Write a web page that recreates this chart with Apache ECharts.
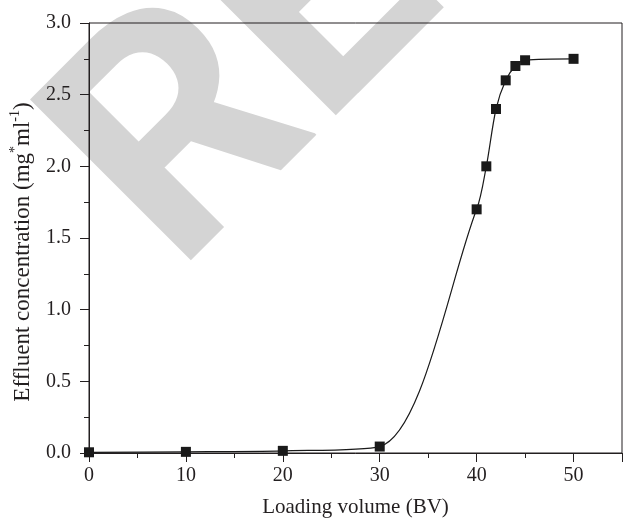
<!DOCTYPE html>
<html>
<head>
<meta charset="utf-8">
<script src="https://cdn.jsdelivr.net/npm/echarts@6/dist/echarts.min.js"></script>
<style>html,body{margin:0;padding:0;background:#fff;}#c{width:623px;height:523px;}</style>
</head>
<body>
<div id="c"></div>
<script>
var loadingVolume = [0, 10, 20, 30, 40, 41, 42, 43, 44, 45, 50];
var concentration = [0.005, 0.008, 0.015, 0.045, 1.70, 2.00, 2.40, 2.60, 2.70, 2.74, 2.75];
var xTicks = [0, 10, 20, 30, 40, 50];
var yTicks = ['0.0', '0.5', '1.0', '1.5', '2.0', '2.5', '3.0'];

var ink = '#231f20';
var serif = '"Liberation Serif", "DejaVu Serif", serif';
var chart = echarts.init(document.getElementById('c'), null, {renderer: 'canvas'});
var points = loadingVolume.map(function (x, i) { return [x, concentration[i]]; });

chart.setOption({
  animation: false,
  backgroundColor: '#ffffff',
  graphic: [{
    type: 'text',
    z: -100,
    silent: true,
    x: 120, y: 218,
    rotation: Math.PI / 4,
    style: {
      text: 'RETRACTED',
      fill: '#d4d4d4',
      font: 'bold 320px Roboto, "Open Sans", sans-serif',
      textAlign: 'left',
      textVerticalAlign: 'middle'
    }
  }],
  grid: {left: 87, right: 1, top: 23, bottom: 70, show: true, borderColor: ink, borderWidth: 1, backgroundColor: 'transparent'},
  xAxis: {
    type: 'value', min: 0, max: 55, interval: 10,
    name: 'Loading volume (BV)', nameLocation: 'middle', nameGap: 44,
    nameTextStyle: {fontFamily: serif, fontSize: 21, color: ink},
    axisLine: {show: true, onZero: false, lineStyle: {color: ink, width: 1}},
    axisTick: {show: true, inside: false, length: 9, lineStyle: {color: ink, width: 1}},
    minorTick: {show: true, splitNumber: 2, length: 5, lineStyle: {color: ink, width: 1}},
    splitLine: {show: false},
    axisLabel: {
      margin: 13, fontFamily: serif, fontSize: 20, color: ink, showMaxLabel: false,
      formatter: function (v) { var i = xTicks.indexOf(v); return i >= 0 ? String(xTicks[i]) : ''; }
    }
  },
  yAxis: {
    type: 'value', min: 0, max: 3, interval: 0.5,
    name: '{a|Effluent concentration (mg}{s|*}{a|ml}{s|-1}{a|)}', nameLocation: 'middle', nameGap: 55,
    nameTextStyle: {
      fontFamily: serif, fontSize: 23, color: ink, padding: [0, 28, 0, 0],
      rich: {
        a: {fontFamily: serif, fontSize: 23, color: ink, verticalAlign: 'bottom', lineHeight: 26},
        s: {fontFamily: serif, fontSize: 14, color: ink, verticalAlign: 'top', lineHeight: 26}
      }
    },
    axisLine: {show: true, onZero: false, lineStyle: {color: ink, width: 1}},
    axisTick: {show: true, inside: false, length: 9, lineStyle: {color: ink, width: 1}},
    minorTick: {show: true, splitNumber: 2, length: 5, lineStyle: {color: ink, width: 1}},
    splitLine: {show: false},
    axisLabel: {
      margin: 18, fontFamily: serif, fontSize: 20, color: ink,
      formatter: function (v) { var i = Math.round(v / 0.5); return yTicks[i] || ''; }
    }
  },
  series: [{
    type: 'line',
    data: points,
    smooth: 0.3,
    symbol: 'rect',
    symbolSize: 10,
    showAllSymbol: true,
    clip: true,
    itemStyle: {color: '#1a1a1a'},
    lineStyle: {color: '#1a1a1a', width: 1.2}
  }]
});
</script>
</body>
</html>
